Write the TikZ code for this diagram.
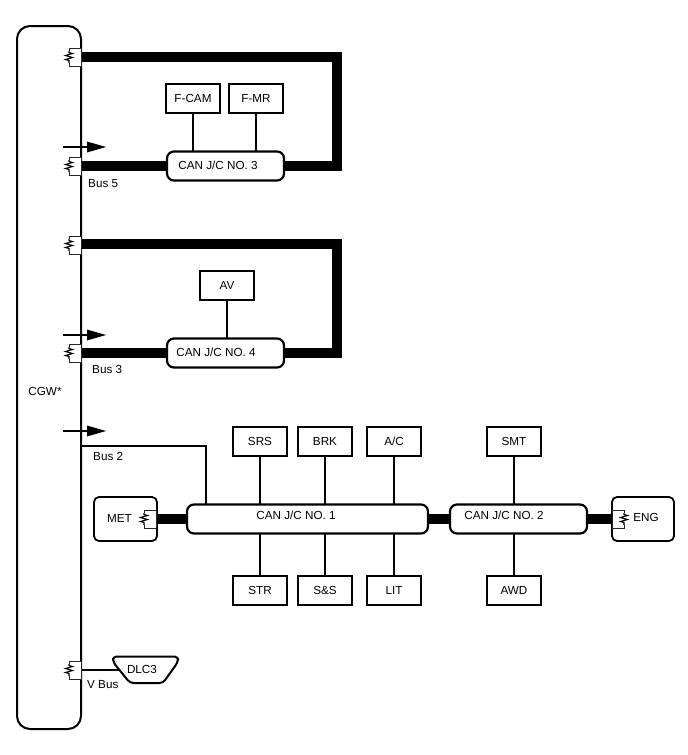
\documentclass[tikz,border=0pt]{standalone}
\usepackage{fontspec}
\setmainfont{Liberation Sans}
\begin{document}
\begin{tikzpicture}[x=1pt,y=-1pt,
  lbl/.style={font=\fontsize{11.7}{13}\selectfont,text=black,inner sep=0pt},
  unit/.style={draw=black,line width=1.8pt,minimum width=54pt,minimum height=29pt,inner sep=0pt,font=\fontsize{11.7}{13}\selectfont},
  jc/.style={draw=black,line width=2.2pt,rounded corners=7pt,inner sep=0pt,font=\fontsize{11.7}{13}\selectfont},
  ecu/.style={draw=black,line width=1.8pt,rounded corners=5pt,inner sep=0pt},
  thick bus/.style={line width=9.5pt,draw=black},
  mid bus/.style={line width=2.6pt,draw=black},
  thin/.style={line width=1.8pt,draw=black},
  arr/.style={line width=2.6pt,draw=black},
  term/.style={line width=1pt,draw=black!85,fill=white},
  res/.style={line width=1.1pt,draw=black}]
\useasboundingbox (0,0) rectangle (688,755);
\fill[white] (0,0) rectangle (688,755);

% CGW
\node[ecu,line width=2pt,rounded corners=13pt,minimum width=64pt,minimum height=703pt] (cgw) at (49,377.5) {};
\node[lbl] (cgwt) at (45,391) {CGW*};

% Coordinates of the bus ends
\coordinate (t1) at (81,57);
\coordinate (t2) at (81,166);
\coordinate (t3) at (81,244);
\coordinate (t4) at (81,353);
\coordinate (t5) at (81,670);
\coordinate (c1) at (337,57);
\coordinate (c2) at (337,166);
\coordinate (c3) at (337,244);
\coordinate (c4) at (337,353);
\coordinate (b2a) at (81,446);
\coordinate (b2b) at (206,446);
\coordinate (dlcw) at (119,670);

% Buses first, so outlines lie on top
\node[draw=none,minimum width=117pt,minimum height=29pt] (j3) at (225.5,166) {};
\node[draw=none,minimum width=117pt,minimum height=29pt] (j4) at (225.5,353) {};
\node[draw=none,minimum width=241pt,minimum height=29pt] (j1) at (307.5,519) {};
\node[draw=none,minimum width=137pt,minimum height=29pt] (j2) at (518.5,519) {};
\node[draw=none,minimum width=63pt,minimum height=44pt] (met) at (125.5,519) {};
\node[draw=none,minimum width=62pt,minimum height=44pt] (eng) at (643,519) {};

\draw[thick bus,line join=miter] (t1) -- (c1) -- (c2) -- (j3.east);
\draw[thick bus] (t2) -- (j3.west);
\draw[thick bus,line join=miter] (t3) -- (c3) -- (c4) -- (j4.east);
\draw[thick bus] (t4) -- (j4.west);
\draw[thick bus] (met.east) -- (j1.west);
\draw[thick bus] (j1.east) -- (j2.west);
\draw[thick bus] (j2.east) -- (eng.west);

% Junction connectors
\node[jc,fill=white,minimum width=117pt,minimum height=29pt] at (j3) {};
\node[lbl] at (218,165) {CAN J/C NO. 3};
\node[jc,fill=white,minimum width=117pt,minimum height=29pt] at (j4) {};
\node[lbl] at (216,352) {CAN J/C NO. 4};
\node[jc,fill=white,minimum width=241pt,minimum height=29pt] at (j1) {};
\node[lbl] at (296,515) {CAN J/C NO. 1};
\node[jc,fill=white,minimum width=137pt,minimum height=29pt] at (j2) {};
\node[lbl] at (504,515) {CAN J/C NO. 2};

% Units
\node[unit] (fcam) at (193,98.5) {F-CAM};
\node[unit] (fmr) at (256,98.5) {F-MR};
\node[unit] (av) at (227,285.5) {AV};
\node[unit] (srs) at (260,441.5) {SRS};
\node[unit] (brk) at (325,441.5) {BRK};
\node[unit] (ac) at (394,441.5) {A/C};
\node[unit] (smt) at (514,441.5) {SMT};
\node[unit] (str) at (260,590.5) {STR};
\node[unit] (ss) at (325,590.5) {S\&S};
\node[unit] (lit) at (394,590.5) {LIT};
\node[unit] (awd) at (514,590.5) {AWD};

% ECUs
\node[ecu,minimum width=63pt,minimum height=44pt] at (met) {};
\node[lbl] at (119.5,518) {MET};
\node[ecu,minimum width=62pt,minimum height=44pt] at (eng) {};
\node[lbl] at (646,517) {ENG};

% DLC3
\draw[line width=2pt,line join=round,rounded corners=3.5pt] (113,656.5) -- (178,656.5) -- (178,662) -- (163,683) -- (130,683) -- (113,662) -- cycle;
\node[lbl] (dlc) at (142,669) {DLC3};

% Thin connectors
\draw[thin] (fcam) -- (fcam |- j3.north);
\draw[thin] (fmr) -- (fmr |- j3.north);
\draw[thin] (av) -- (av |- j4.north);
\draw[thin] (srs) -- (srs |- j1.north);
\draw[thin] (brk) -- (brk |- j1.north);
\draw[thin] (ac) -- (ac |- j1.north);
\draw[thin] (smt) -- (smt |- j2.north);
\draw[thin] (str) -- (str |- j1.south);
\draw[thin] (ss) -- (ss |- j1.south);
\draw[thin] (lit) -- (lit |- j1.south);
\draw[thin] (awd) -- (awd |- j2.south);
\draw[mid bus] (b2a) -- (b2b) -- (b2b |- j1.north);
\draw[mid bus] (t5) -- (dlcw);

% Terminators
\foreach \xa/\xb/\y/\xr in {
  69/81/48/69, 69/81/157/69, 69/81/236/69, 69/81/344/69, 69/81/661/69,
  144/156/510/144, 612.5/624/510/624} {
  \draw[term] (\xa,\y) rectangle (\xb,\y+18);
  \fill[white] (\xr-1,\y+3) rectangle (\xr+1,\y+15);
  \draw[res] (\xr,\y+3) -- (\xr,\y+4.5)
     -- ++(3.5,1) -- ++(-7,2) -- ++(7,2) -- ++(-7,2) -- ++(3.5,1) -- (\xr,\y+15);
}

% Arrows
\foreach \y in {147,335,431} {
  \draw[arr] (63,\y) -- (90,\y);
  \fill[black] (87,\y-5.5) -- (106,\y) -- (87,\y+5.5) -- cycle;
}

% Bus labels
\node[lbl,anchor=west] at (88,184) {Bus 5};
\node[lbl,anchor=west] at (92,369) {Bus 3};
\node[lbl,anchor=west] at (93,456) {Bus 2};
\node[lbl,anchor=west] at (87,685) {V Bus};
\end{tikzpicture}
\end{document}
